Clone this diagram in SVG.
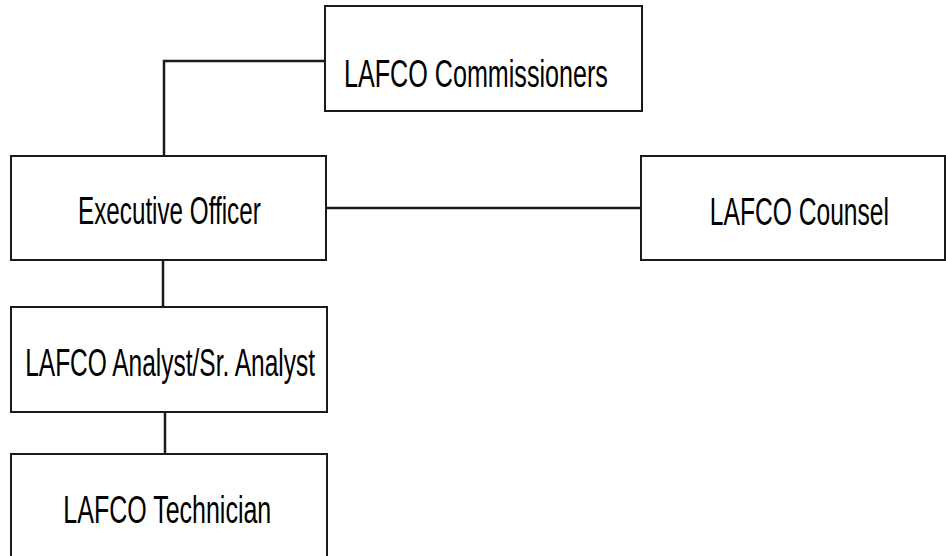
<svg xmlns="http://www.w3.org/2000/svg" width="946" height="556" viewBox="0 0 946 556">
<style>
.box{fill:#fff;stroke:#1a1a1a;stroke-width:2}
.lbl{font-family:"Liberation Sans",Arial,sans-serif;font-size:38px;fill:#000;text-anchor:middle}
.conn{fill:none;stroke:#1a1a1a;stroke-width:2.5}
</style>
<rect width="946" height="556" fill="#fff"/>
<g id="connectors">
<polyline class="conn" points="325,61 164,61 164,156"/>
<line class="conn" x1="326" y1="208" x2="641" y2="208"/>
<line class="conn" x1="163" y1="260" x2="163" y2="307"/>
<line class="conn" x1="165" y1="412" x2="165" y2="454"/>
</g>
<g id="commissioners">
<rect class="box" x="325" y="6" width="317" height="105"/>
<text class="lbl" transform="scale(0.7,1)" x="680" y="87" textLength="377" lengthAdjust="spacingAndGlyphs">LAFCO Commissioners</text>
</g>
<g id="executive">
<rect class="box" x="11" y="156" width="315" height="104"/>
<text class="lbl" transform="scale(0.7,1)" x="242" y="224" textLength="261" lengthAdjust="spacingAndGlyphs">Executive Officer</text>
</g>
<g id="counsel">
<rect class="box" x="641" y="156" width="304" height="104"/>
<text class="lbl" transform="scale(0.7,1)" x="1142" y="225" textLength="256" lengthAdjust="spacingAndGlyphs">LAFCO Counsel</text>
</g>
<g id="analyst">
<rect class="box" x="11" y="307" width="316" height="105"/>
<text class="lbl" transform="scale(0.7,1)" x="243" y="376" textLength="414" lengthAdjust="spacingAndGlyphs">LAFCO Analyst/Sr. Analyst</text>
</g>
<g id="technician">
<rect class="box" x="11" y="454" width="316" height="110"/>
<text class="lbl" transform="scale(0.7,1)" x="239" y="523" textLength="297" lengthAdjust="spacingAndGlyphs">LAFCO Technician</text>
</g>
</svg>
